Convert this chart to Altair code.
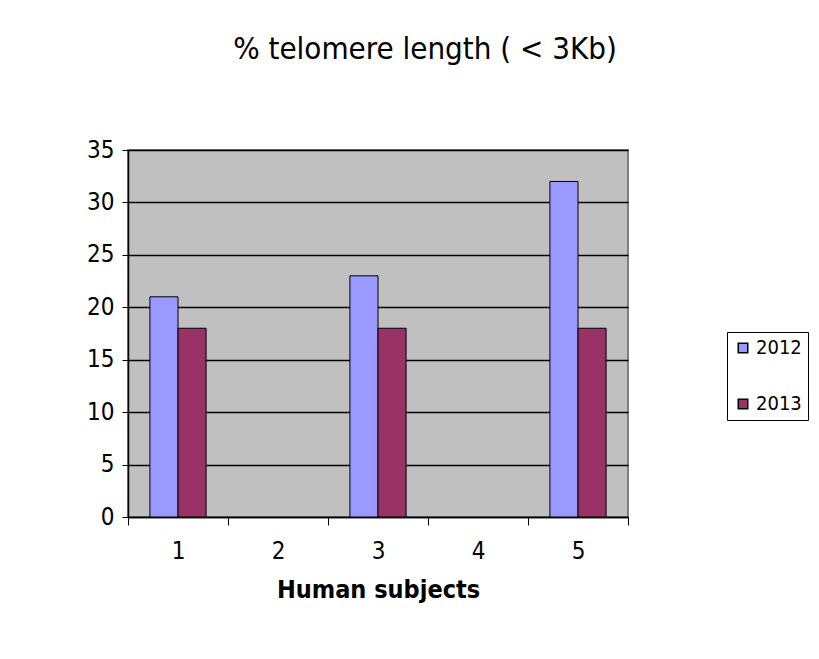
import altair as alt
import pandas as pd

subjects = ["1", "2", "3", "4", "5"]
years = ["2012", "2013"]
vals_2012 = [21, None, 23, None, 32]
vals_2013 = [18, None, 18, None, 18]

rows = []
for s, a, b in zip(subjects, vals_2012, vals_2013):
    if a is not None:
        rows.append({"subject": s, "year": "2012", "value": a})
    if b is not None:
        rows.append({"subject": s, "year": "2013", "value": b})
df = pd.DataFrame(rows)

FONT = "'Liberation Sans Narrow', 'DejaVu Sans Condensed', 'Liberation Sans', Arial, sans-serif"

bars = alt.Chart(df).mark_bar(stroke="black", strokeWidth=1).encode(
    x=alt.X("subject:N", scale=alt.Scale(domain=subjects, paddingInner=0, paddingOuter=0),
            axis=alt.Axis(title="Human subjects", labelAngle=0, tickBand="extent",
                          labelFontSize=24, labelPadding=14, tickSize=8,
                          titleFontSize=25, titleFontWeight="bold", titlePadding=14)),
    xOffset=alt.XOffset("year:N", scale=alt.Scale(domain=years, paddingInner=0, paddingOuter=0.78)),
    y=alt.Y("value:Q", scale=alt.Scale(domain=[0, 35]),
            axis=alt.Axis(title=None, values=[0, 5, 10, 15, 20, 25, 30, 35],
                          labelFontSize=24, tickSize=6, labelPadding=8,
                          grid=True, gridColor="black", gridWidth=1.5)),
    color=alt.Color("year:N", scale=alt.Scale(domain=years, range=["#9999FF", "#993366"]),
                    legend=alt.Legend(title=None, orient="none", legendX=599, legendY=182,
                                      symbolType="square", symbolSize=90, symbolStrokeColor="black",
                                      symbolStrokeWidth=1.5, labelFontSize=20, labelOffset=3,
                                      rowPadding=36, padding=6,
                                      strokeColor="black", fillColor="white")),
)

chart = bars.properties(
    width=500, height=367,
    title=alt.TitleParams("% telomere length ( < 3Kb)", fontSize=31, fontWeight="normal",
                          font=FONT, color="black", dx=47, offset=72),
    autosize=alt.AutoSizeParams(type="none"),
    padding={"left": 120, "top": 142, "right": 182, "bottom": 126},
).configure(font=FONT, background="white").configure_view(
    fill="#C0C0C0", stroke="#808080", strokeWidth=2
).configure_axis(
    domainColor="black", tickColor="black", labelColor="black", titleColor="black",
    labelFont=FONT, titleFont=FONT, domainWidth=1.5
).configure_legend(labelFont=FONT, labelColor="black")

chart.save("out.html", embed_options={"renderer": "svg", "actions": False})
